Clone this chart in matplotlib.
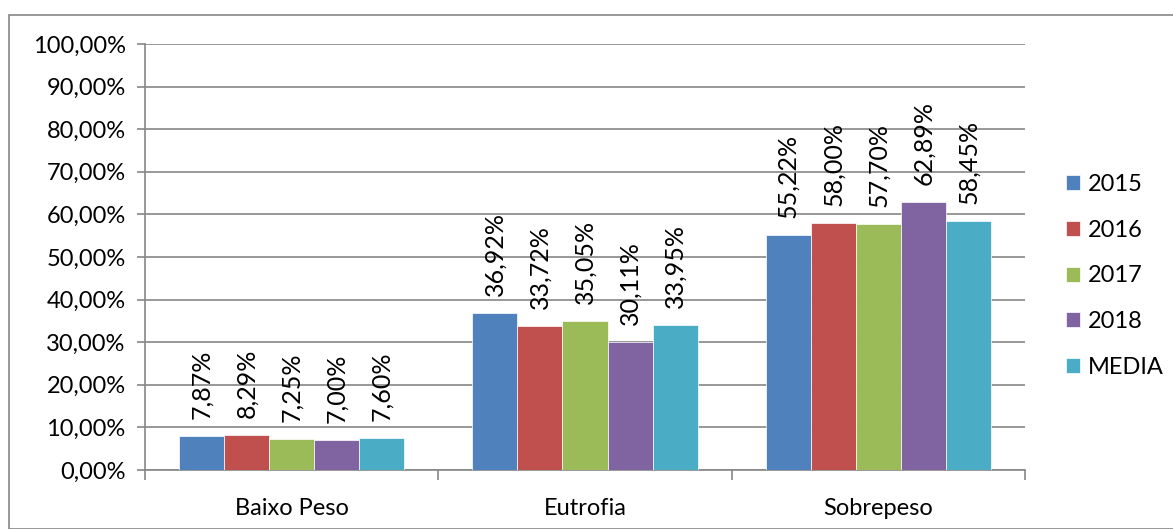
import numpy as np
import matplotlib.pyplot as plt
from matplotlib.patches import Rectangle

categories = ['Baixo Peso', 'Eutrofia', 'Sobrepeso']
series_names = ['2015', '2016', '2017', '2018', 'MEDIA']
values = {
    '2015': [7.87, 36.92, 55.22],
    '2016': [8.29, 33.72, 58.00],
    '2017': [7.25, 35.05, 57.70],
    '2018': [7.00, 30.11, 62.89],
    'MEDIA': [7.60, 33.95, 58.45],
}
colors = ['#4F81BD', '#C0504D', '#9BBB59', '#8064A2', '#4BACC6']
yticks = np.arange(0, 101, 10)

plt.rcParams['font.family'] = ['Lato', 'DejaVu Sans']

fig = plt.figure(figsize=(11.73, 5.29), dpi=100)
ax = fig.add_axes([145 / 1173, 1 - 470 / 529, 880 / 1173, 426 / 529])

# outer chart border
fig.patches.append(Rectangle((9 / 1173, 0), 1.0, 1 - 15 / 529, transform=fig.transFigure,
                             fill=False, edgecolor='#868686', linewidth=1.2, zorder=0))

n = len(series_names)
bar_w = 1.0 / (n + 1.5)
x = np.arange(len(categories))
for i, name in enumerate(series_names):
    pos = x + (i - (n - 1) / 2) * bar_w
    ax.bar(pos, values[name], width=bar_w, color=colors[i], label=name,
           edgecolor='white', linewidth=0.5, zorder=3)
    for p, v in zip(pos, values[name]):
        ax.text(p, v + 4, ('%.2f%%' % v).replace('.', ','), rotation=90,
                ha='center', va='bottom', fontsize=18, zorder=4)

ax.set_xlim(-0.5, len(categories) - 0.5)
ax.set_ylim(0, 100)
ax.set_yticks(yticks)
ax.set_yticklabels(['%d,00%%' % t for t in yticks], fontsize=17)
ax.set_xticks(x)
ax.set_xticklabels(categories, fontsize=17)
ax.tick_params(axis='x', length=0, pad=20)
ax.tick_params(axis='y', length=6, width=1.2, color='#868686', pad=8)
ax.set_xticks(np.arange(-0.5, len(categories), 1.0), minor=True)
ax.tick_params(axis='x', which='minor', length=7, width=1.2, color='#868686', direction='out')
ax.yaxis.grid(True, color='#868686', linewidth=1.2, zorder=0)
ax.set_axisbelow(True)
for s in ['top', 'right']:
    ax.spines[s].set_visible(False)
for s in ['left', 'bottom']:
    ax.spines[s].set_color('#868686')
    ax.spines[s].set_linewidth(1.2)

leg = fig.legend(loc='center left', bbox_to_anchor=(1045 / 1173, 1 - 276 / 529),
                 frameon=False, fontsize=17, handlelength=0.6, handleheight=0.6,
                 handletextpad=0.3, labelspacing=1.05)

fig.savefig('out.png', dpi=100)
